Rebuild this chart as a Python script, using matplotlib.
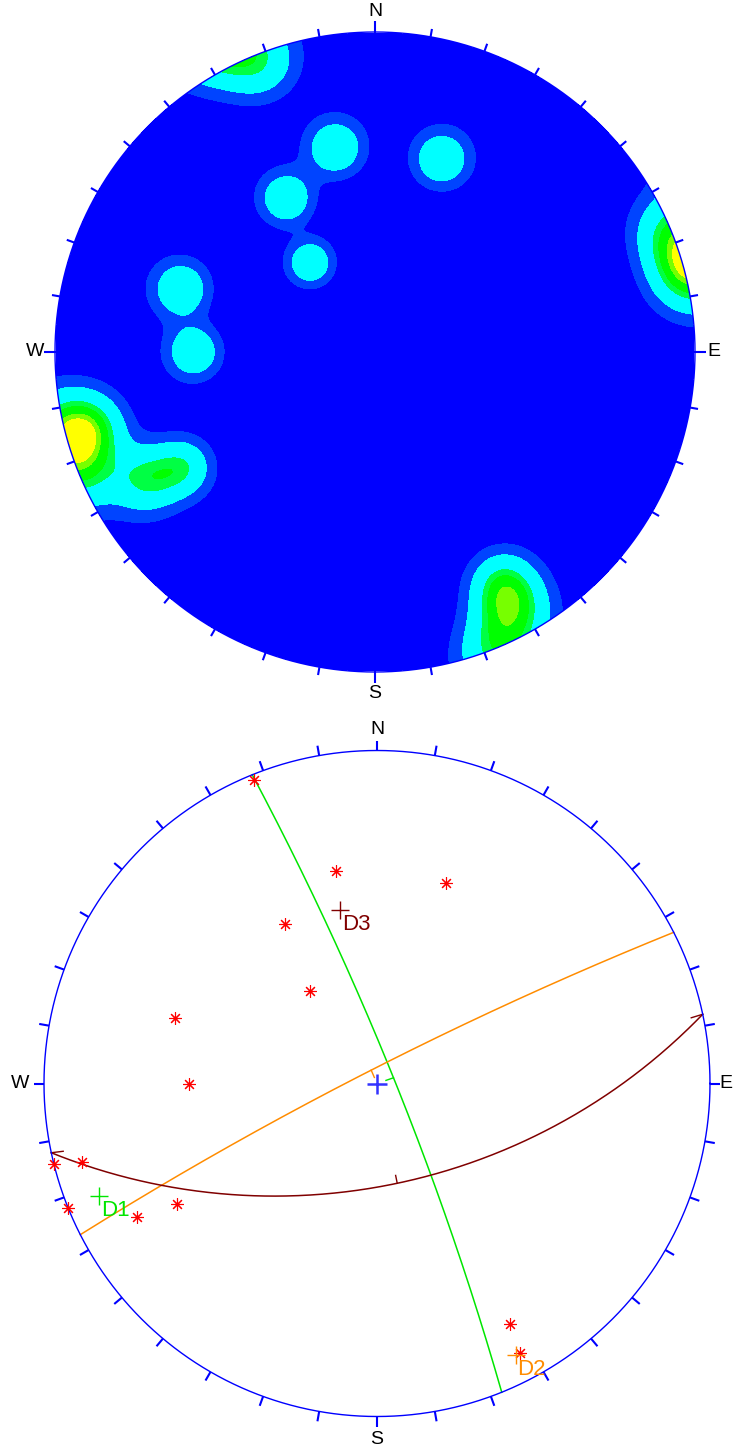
import numpy as np
import matplotlib
matplotlib.use('Agg')
import matplotlib.pyplot as plt

plt.rcParams['font.family'] = ['Liberation Sans', 'DejaVu Sans']

# poles to joints (trend, plunge)
pole_trend = [338, 349, 19, 330, 324, 288, 270, 256, 255, 248, 241, 239, 151, 152]
pole_plunge = [1, 24, 25, 32, 52, 25, 31, 0, 5, 0, 11, 20, 11, 5]

# mean set poles and their planes
set_names = ['D1', 'D2', 'D3']
set_trend = [248, 153, 348]
set_plunge = [6, 5, 34]
set_colors = ['#00e600', '#ff8c00', '#800000']

# density contour levels (relative) and fills
density_levels = [0, 0.24, 0.53, 1.08, 1.3, 1.62, 1.8, 50]
density_colors = ['#0000ff', '#0044ff', '#00ffff', '#00ff44', '#00ff00', '#77ff00', '#ffff00']

compass = ['N', 'E', 'S', 'W']
compass_az = [0, 90, 180, 270]

KAPPA = 130.0


def project(trend, plunge):
    # equal angle (Wulff), lower hemisphere
    t = np.radians(trend)
    p = np.radians(plunge)
    r = np.tan((np.pi / 2 - p) / 2)
    return r * np.sin(t), r * np.cos(t)


def to_vec(trend, plunge):
    t = np.radians(np.asarray(trend, float))
    p = np.radians(np.asarray(plunge, float))
    return np.stack([np.cos(p) * np.cos(t), np.cos(p) * np.sin(t), np.sin(p)], axis=-1)


def great_circle(trend, plunge, n=300):
    s = np.radians(trend + 90)
    u = np.array([np.cos(s), np.sin(s), 0.0])
    w = to_vec(trend + 180, 90 - plunge)
    t = np.linspace(0, np.pi, n)
    v = np.outer(np.cos(t), u) + np.outer(np.sin(t), w)
    tr = np.degrees(np.arctan2(v[:, 1], v[:, 0]))
    pl = np.degrees(np.arcsin(np.clip(v[:, 2], -1, 1)))
    return project(tr, pl)


def make_axes(fig, cx, cy, R, L=360):
    W, H = 733, 1449
    ax = fig.add_axes([(cx - L) / W, 1 - (cy + L) / H, 2 * L / W, 2 * L / H])
    ax.set_xlim(-L / R, L / R)
    ax.set_ylim(-L / R, L / R)
    ax.set_aspect('equal')
    ax.axis('off')
    return ax


def draw_frame(ax, R, tick_px, card_px, lw, label_off, fs, weight='normal'):
    th = np.linspace(0, 2 * np.pi, 721)
    ax.plot(np.cos(th), np.sin(th), color='#0000ff', lw=1.0, zorder=5)
    for az in range(0, 360, 10):
        a = np.radians(az)
        ln = (card_px if az % 90 == 0 else tick_px) / R
        ax.plot([np.sin(a), (1 + ln) * np.sin(a)], [np.cos(a), (1 + ln) * np.cos(a)],
                color='#0000ff', lw=lw, solid_capstyle='butt', zorder=5)
    for lab, az, off in zip(compass, compass_az, label_off):
        a = np.radians(az)
        ax.text(off * np.sin(a), off * np.cos(a), lab, ha='center', va='center',
                fontsize=fs, fontweight=weight, color='black', clip_on=False)


fig = plt.figure(figsize=(7.33, 14.49), dpi=100)

# ---- top: pole density contours ----
R1 = 320
ax1 = make_axes(fig, 375, 352, R1)
g = np.linspace(-1, 1, 601)
X, Y = np.meshgrid(g, g)
rr = np.hypot(X, Y)
phi = 2 * np.arctan(rr)
az = np.arctan2(X, Y)
grid_vec = np.stack([np.sin(phi) * np.cos(az), np.sin(phi) * np.sin(az), np.cos(phi)], axis=-1)
poles = to_vec(pole_trend, pole_plunge)
dens = np.zeros_like(X)
for p in poles:
    c = np.abs(grid_vec @ p)
    dens += np.exp(KAPPA * (c - 1))
dens = np.ma.masked_where(rr > 1.0, dens)
ax1.contourf(X, Y, dens, levels=density_levels, colors=density_colors, antialiased=False)
draw_frame(ax1, R1, 8, 11, 1.5, [1.063, 1.058, 1.066, 1.063], 14)

# ---- bottom: poles and planes ----
R2 = 333
ax2 = make_axes(fig, 377, 1083.5, R2)
draw_frame(ax2, R2, 10, 10, 1.5, [1.062, 1.048, 1.07, 1.072], 14)

px, py = project(np.array(pole_trend), np.array(pole_plunge))
ax2.plot(px, py, ls='none', marker=(8, 2, 0), ms=9, mew=0.8, color='#ff0000', zorder=6)

ax2.plot([0], [0], marker='+', ms=15, mew=1.8, color='#3333ff', zorder=6)

for name, tr, pl, col in zip(set_names, set_trend, set_plunge, set_colors):
    gx, gy = great_circle(tr, pl)
    ax2.plot(gx, gy, color=col, lw=1.1, zorder=4)
    # dip tick at mid point, towards the centre
    mx, my = gx[len(gx) // 2], gy[len(gy) // 2]
    mr = np.hypot(mx, my)
    tl = 8 / R2
    ax2.plot([mx, mx - tl * mx / mr], [my, my - tl * my / mr], color=col, lw=1.0, zorder=4)
    # pole of the set
    sx, sy = project(tr, pl)
    ax2.plot([sx], [sy], marker='+', ms=13, mew=1.0, color=col, zorder=6)
    ax2.text(sx + 2 / R2, sy - 4 / R2, name, color=col, fontsize=16, ha='left', va='top', zorder=7)
    if name == 'D3':
        # half arrow heads at both ends
        for i0, i1 in [(0, 6), (-1, -7)]:
            dx, dy = gx[i1] - gx[i0], gy[i1] - gy[i0]
            d = np.hypot(dx, dy)
            dx, dy = dx / d, dy / d
            best = None
            for sgn in (1, -1):
                ang = np.radians(28) * sgn
                bx = dx * np.cos(ang) - dy * np.sin(ang)
                by = dx * np.sin(ang) + dy * np.cos(ang)
                if best is None or by > best[1]:
                    best = (bx, by)
            bl = 12 / R2
            ax2.plot([gx[i0], gx[i0] + bl * best[0]], [gy[i0], gy[i0] + bl * best[1]],
                     color=col, lw=1.0, zorder=4)

fig.savefig('out.png', dpi=100, facecolor='white')
